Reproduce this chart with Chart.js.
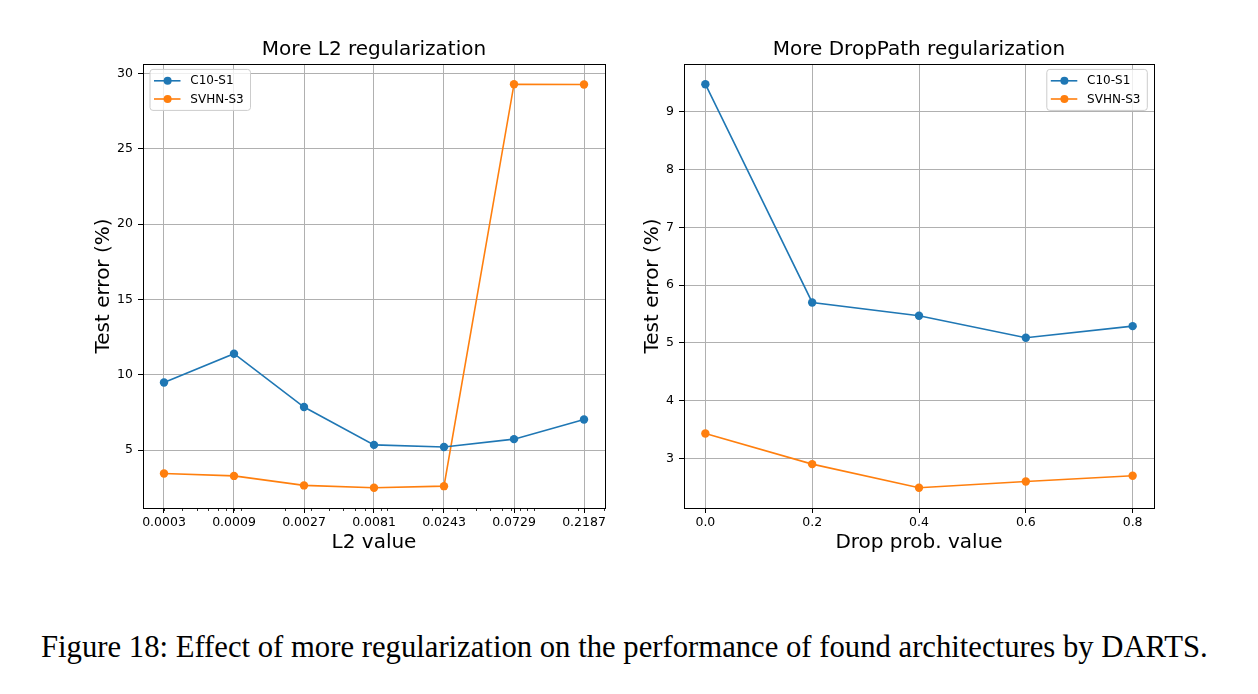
<!DOCTYPE html>
<html>
<head>
<meta charset="utf-8">
<script src="https://cdn.jsdelivr.net/npm/chart.js@4.4.1/dist/chart.umd.min.js"></script>
<style>
  html, body { margin: 0; padding: 0; background: #ffffff; }
  body { width: 1258px; height: 694px; position: relative; overflow: hidden; }
  .wrap { position: absolute; top: 0; width: 629px; height: 600px; }
  #caption { position: absolute; left: 41px; top: 632px; font-family: "Liberation Serif", "Times New Roman", serif; font-size: 30.7px; line-height: 31px; color: #000; white-space: nowrap; }
</style>
</head>
<body>
<div class="wrap" style="left:0px"><canvas id="c1" width="629" height="600"></canvas></div>
<div class="wrap" style="left:629px"><canvas id="c2" width="629" height="600"></canvas></div>
<div id="caption">Figure 18: Effect of more regularization on the performance of found architectures by DARTS.</div>
<script>
// ---------- data ----------
const seriesNames = ['C10-S1', 'SVHN-S3'];
const seriesColors = ['#1f77b4', '#ff7f0e'];

const l2Values = [0.0003, 0.0009, 0.0027, 0.0081, 0.0243, 0.0729, 0.2187];
const l2TickLabels = ['0.0003', '0.0009', '0.0027', '0.0081', '0.0243', '0.0729', '0.2187'];
const l2C10 = [9.48, 11.39, 7.85, 5.34, 5.20, 5.72, 7.02];
const l2SVHN = [3.44, 3.28, 2.65, 2.49, 2.60, 29.28, 29.26];
const l2YTicks = [5, 10, 15, 20, 25, 30];

const dropValues = [0.0, 0.2, 0.4, 0.6, 0.8];
const dropTickLabels = ['0.0', '0.2', '0.4', '0.6', '0.8'];
const dropC10 = [9.48, 5.70, 5.47, 5.09, 5.29];
const dropSVHN = [3.43, 2.90, 2.49, 2.60, 2.70];
const dropYTicks = [3, 4, 5, 6, 7, 8, 9];

// ---------- helpers ----------
const FONT = '"DejaVu Sans", sans-serif';

function padRange(lo, hi, frac) {
  const r = hi - lo;
  return [lo - r * frac, hi + r * frac];
}
function padLogRange(lo, hi, frac) {
  const a = Math.log10(lo), b = Math.log10(hi);
  const r = b - a;
  return [Math.pow(10, a - r * frac), Math.pow(10, b + r * frac)];
}
function makeDatasets(xs, ys1, ys2) {
  return [ys1, ys2].map((ys, i) => ({
    label: seriesNames[i],
    data: xs.map((x, j) => ({ x: x, y: ys[j] })),
    borderColor: seriesColors[i],
    backgroundColor: seriesColors[i],
    pointBackgroundColor: seriesColors[i],
    pointBorderColor: seriesColors[i],
    pointBorderWidth: 0,
    pointRadius: 4.2,
    pointHoverRadius: 4.2,
    borderWidth: 1.6,
    tension: 0,
    fill: false
  }));
}

const framePlugin = {
  id: 'frame',
  afterDatasetsDraw(chart) {
    const ca = chart.chartArea, ctx = chart.ctx;
    ctx.save();
    ctx.strokeStyle = '#000';
    ctx.lineWidth = 1;
    ctx.strokeRect(Math.round(ca.left) + 0.5, Math.round(ca.top) + 0.5,
                   Math.round(ca.right) - Math.round(ca.left), Math.round(ca.bottom) - Math.round(ca.top));
    ctx.restore();
  }
};

const boxLegendPlugin = {
  id: 'boxLegend',
  afterDraw(chart, args, opts) {
    if (!opts || !opts.side) return;
    const ctx = chart.ctx, ca = chart.chartArea;
    const w = 100.5, h = 41;
    const x = opts.side === 'left' ? ca.left + 7 : ca.right - 6.7 - w;
    const y = ca.top + 5.4;
    ctx.save();
    ctx.beginPath();
    if (ctx.roundRect) ctx.roundRect(x, y, w, h, 3); else ctx.rect(x, y, w, h);
    ctx.fillStyle = 'rgba(255,255,255,0.8)';
    ctx.fill();
    ctx.strokeStyle = '#cccccc';
    ctx.lineWidth = 1;
    ctx.stroke();
    chart.data.datasets.forEach((ds, i) => {
      const cy = y + 11.4 + i * 18.2;
      ctx.strokeStyle = ds.borderColor;
      ctx.lineWidth = 1.6;
      ctx.beginPath();
      ctx.moveTo(x + 4, cy);
      ctx.lineTo(x + 30.5, cy);
      ctx.stroke();
      ctx.fillStyle = ds.borderColor;
      ctx.beginPath();
      ctx.arc(x + 17.6, cy, 4, 0, Math.PI * 2);
      ctx.fill();
      ctx.fillStyle = '#000';
      ctx.font = '12px ' + FONT;
      ctx.textBaseline = 'middle';
      ctx.textAlign = 'left';
      ctx.fillText(ds.label, x + 40.3, cy + 0.5);
    });
    ctx.restore();
  }
};

const minorTickPlugin = {
  id: 'minorTicks',
  afterDraw(chart, args, opts) {
    if (!opts || !opts.enabled) return;
    const sc = chart.scales.x, ctx = chart.ctx;
    const lo = sc.min, hi = sc.max;
    ctx.save();
    ctx.strokeStyle = '#000';
    ctx.lineWidth = 0.8;
    for (let e = Math.floor(Math.log10(lo)); e <= Math.ceil(Math.log10(hi)); e++) {
      for (let k = 1; k <= 9; k++) {
        const v = k * Math.pow(10, e);
        if (v < lo || v > hi) continue;
        const px = Math.round(sc.getPixelForValue(v)) + 0.5;
        ctx.beginPath();
        ctx.moveTo(px, sc.top);
        ctx.lineTo(px, sc.top + 3);
        ctx.stroke();
      }
    }
    ctx.restore();
  }
};

function baseOptions(cfg) {
  return {
    responsive: false,
    animation: false,
    devicePixelRatio: 1,
    layout: { padding: { left: cfg.padLeft, right: cfg.padRight, top: 0, bottom: 45.6 } },
    plugins: {
      legend: { display: false },
      tooltip: { enabled: false },
      title: {
        display: true,
        fullSize: false,
        text: cfg.title,
        color: '#000',
        font: { family: FONT, size: 20, weight: 'normal', lineHeight: 1.2 },
        padding: { top: 37.6, bottom: 2.4 }
      },
      boxLegend: { side: cfg.legendSide },
      minorTicks: { enabled: !!cfg.minor }
    },
    scales: {
      x: {
        type: cfg.xType,
        min: cfg.xRange[0],
        max: cfg.xRange[1],
        afterBuildTicks: (s) => { s.ticks = cfg.xTicks.map(v => ({ value: v })); },
        afterFit: (s) => { s.height = 46.4; },
        ticks: {
          autoSkip: false,
          maxRotation: 0,
          color: '#000',
          padding: 2,
          font: { family: FONT, size: 12.5 },
          callback: (v, i) => cfg.xLabels[i]
        },
        grid: { color: '#b0b0b0', lineWidth: 1, tickColor: '#000', tickLength: 5, tickWidth: 1 },
        border: { display: true, color: '#000', width: 1 },
        title: {
          display: true,
          text: cfg.xTitle,
          color: '#000',
          font: { family: FONT, size: 20, lineHeight: 1.2 },
          padding: { top: 0, bottom: 0 }
        }
      },
      y: {
        type: 'linear',
        min: cfg.yRange[0],
        max: cfg.yRange[1],
        afterBuildTicks: (s) => { s.ticks = cfg.yTicks.map(v => ({ value: v })); },
        afterFit: (s) => { s.width = cfg.yWidth; },
        ticks: {
          color: '#000',
          padding: 5,
          font: { family: FONT, size: 12.5 },
          callback: (v) => String(v)
        },
        grid: { color: '#b0b0b0', lineWidth: 1, tickColor: '#000', tickLength: 5, tickWidth: 1 },
        border: { display: true, color: '#000', width: 1 },
        title: {
          display: true,
          text: 'Test error (%)',
          color: '#000',
          font: { family: FONT, size: 20, lineHeight: 1.2 },
          padding: { top: 0, bottom: 0 }
        }
      }
    }
  };
}

const l2Y = padRange(Math.min(...l2C10, ...l2SVHN), Math.max(...l2C10, ...l2SVHN), 0.05);
const l2X = padLogRange(l2Values[0], l2Values[l2Values.length - 1], 0.05);
new Chart(document.getElementById('c1'), {
  type: 'line',
  data: { datasets: makeDatasets(l2Values, l2C10, l2SVHN) },
  options: baseOptions({
    title: 'More L2 regularization', xTitle: 'L2 value', xType: 'logarithmic',
    xRange: l2X, xTicks: l2Values, xLabels: l2TickLabels,
    yRange: l2Y, yTicks: l2YTicks, yWidth: 51,
    padLeft: 92, padRight: 24, legendSide: 'left', minor: true
  }),
  plugins: [framePlugin, boxLegendPlugin, minorTickPlugin]
});

const dpY = padRange(Math.min(...dropC10, ...dropSVHN), Math.max(...dropC10, ...dropSVHN), 0.05);
const dpX = padRange(dropValues[0], dropValues[dropValues.length - 1], 0.05);
new Chart(document.getElementById('c2'), {
  type: 'line',
  data: { datasets: makeDatasets(dropValues, dropC10, dropSVHN) },
  options: baseOptions({
    title: 'More DropPath regularization', xTitle: 'Drop prob. value', xType: 'linear',
    xRange: dpX, xTicks: dropValues, xLabels: dropTickLabels,
    yRange: dpY, yTicks: dropYTicks, yWidth: 43,
    padLeft: 12, padRight: 104, legendSide: 'right', minor: false
  }),
  plugins: [framePlugin, boxLegendPlugin, minorTickPlugin]
});
</script>
</body>
</html>
